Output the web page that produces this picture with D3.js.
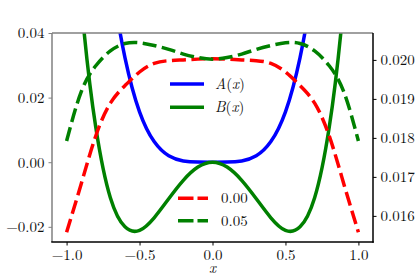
<!DOCTYPE html>
<html>
<head>
  <meta charset="utf-8">
  <script src="https://d3js.org/d3.v7.min.js"></script>
  <style>
    body, html { margin: 0; padding: 0; background: #fff; }
    svg { display: block; }
  </style>
</head>
<body>
  <svg id="chart" width="415" height="277"></svg>
  <script>
    // x samples for all curves
    var xs = [-1.0, -0.9, -0.8, -0.7, -0.6, -0.5, -0.4, -0.3, -0.2, -0.1, 0.0,
              0.1, 0.2, 0.3, 0.4, 0.5, 0.6, 0.7, 0.8, 0.9, 1.0];
    // left axis curves (A only goes a bit past the top edge)
    var xsA = [-0.8, -0.7, -0.6, -0.5, -0.4, -0.3, -0.2, -0.1, 0.0, 0.1, 0.2, 0.3, 0.4, 0.5, 0.6, 0.7, 0.8];
    var aVals = [0.102, 0.060, 0.0324, 0.0156, 0.0064, 0.0020, 0.0004, 0.00003, 0.0,
                 0.00003, 0.0004, 0.0020, 0.0064, 0.0156, 0.0324, 0.060, 0.102];
    var bVals = [0.111, 0.050, 0.0108, -0.0110, -0.0200, -0.0211, -0.0172, -0.0113, -0.0056, -0.0015, 0.0,
                 -0.0015, -0.0056, -0.0113, -0.0172, -0.0211, -0.0200, -0.0110, 0.0108, 0.050, 0.111];
    // right axis curves
    var red00 = [0.01558, 0.01682, 0.01805, 0.01889, 0.01934, 0.01969, 0.01991, 0.01998, 0.02000, 0.02002, 0.02003,
                 0.02002, 0.02000, 0.01998, 0.01991, 0.01969, 0.01934, 0.01889, 0.01805, 0.01682, 0.01558];
    var green05 = [0.01792, 0.01918, 0.01985, 0.02023, 0.02042, 0.02044, 0.02037, 0.02027, 0.02015, 0.02006, 0.02002,
                   0.02006, 0.02015, 0.02027, 0.02037, 0.02044, 0.02042, 0.02023, 0.01985, 0.01918, 0.01792];

    var xTicks = [-1.0, -0.5, 0.0, 0.5, 1.0];
    var yLeftTicks = [-0.02, 0.0, 0.02, 0.04];
    var yRightTicks = [0.016, 0.017, 0.018, 0.019, 0.020];

    var L = 52, R = 373, T = 33, B = 242;
    var serif = "'Latin Modern Roman'";
    var svg = d3.select("#chart");

    var x = d3.scaleLinear().domain([-1.1, 1.1]).range([L, R]);
    var yL = d3.scaleLinear().domain([-0.0247, 0.04]).range([B, T]);
    var yR = d3.scaleLinear().domain([0.01533, 0.02069]).range([B, T]);

    svg.append("defs").append("clipPath").attr("id", "plotclip")
      .append("rect").attr("x", L).attr("y", T).attr("width", R - L).attr("height", B - T);

    var plot = svg.append("g").attr("clip-path", "url(#plotclip)");

    function lineOn(ys, xv, yScale) {
      return d3.line()
        .x(function(d, i) { return x(xv[i]); })
        .y(function(d) { return yScale(d); })
        .curve(d3.curveNatural)(ys);
    }

    var dash = "14,5.5";
    var lw = 3.5;

    plot.append("path").attr("d", lineOn(aVals, xsA, yL))
      .attr("fill", "none").attr("stroke", "#0000ff").attr("stroke-width", lw);
    plot.append("path").attr("d", lineOn(bVals, xs, yL))
      .attr("fill", "none").attr("stroke", "#008000").attr("stroke-width", lw);
    plot.append("path").attr("d", lineOn(red00, xs, yR))
      .attr("fill", "none").attr("stroke", "#ff0000").attr("stroke-width", lw)
      .attr("stroke-dasharray", dash);
    plot.append("path").attr("d", lineOn(green05, xs, yR))
      .attr("fill", "none").attr("stroke", "#008000").attr("stroke-width", lw)
      .attr("stroke-dasharray", dash);

    // axes
    var fs = "15px";
    var gx = svg.append("g").attr("transform", "translate(0," + B + ")")
      .call(d3.axisBottom(x).tickValues(xTicks).tickSize(3.5).tickPadding(4)
        .tickFormat(d3.format(".1f")));
    var gl = svg.append("g").attr("transform", "translate(" + L + ",0)")
      .call(d3.axisLeft(yL).tickValues(yLeftTicks).tickSize(3.5).tickPadding(4)
        .tickFormat(d3.format(".2f")));
    var gr = svg.append("g").attr("transform", "translate(" + R + ",0)")
      .call(d3.axisRight(yR).tickValues(yRightTicks).tickSize(3.5).tickPadding(4)
        .tickFormat(d3.format(".3f")));

    [gx, gl, gr].forEach(function(g) {
      g.select(".domain").remove();
      g.attr("font-family", null).attr("font-size", null);
      g.selectAll("text").style("font-family", serif).style("font-size", fs).attr("fill", "#111");
    });
    gx.selectAll("line").attr("stroke", "#000");
    gr.selectAll("line").attr("stroke", "#000");
    gl.selectAll("line").attr("stroke", "#808080");

    // spines: top/left grey, bottom/right black
    svg.append("line").attr("x1", L).attr("x2", L).attr("y1", T).attr("y2", B)
      .attr("stroke", "#808080").attr("stroke-width", 1.5);
    svg.append("line").attr("x1", L).attr("x2", R).attr("y1", T).attr("y2", T)
      .attr("stroke", "#808080").attr("stroke-width", 1.5);
    svg.append("line").attr("x1", L - 0.75).attr("x2", R + 0.75).attr("y1", B).attr("y2", B)
      .attr("stroke", "#000").attr("stroke-width", 1.5);
    svg.append("line").attr("x1", R).attr("x2", R).attr("y1", T).attr("y2", B + 0.75)
      .attr("stroke", "#000").attr("stroke-width", 1.5);

    // x label
    svg.append("text").attr("x", x(0)).attr("y", 273).attr("text-anchor", "middle")
      .style("font-family", serif).style("font-size", "15px").style("font-style", "italic")
      .attr("fill", "#111").text("x");

    // legend 1 (left axis curves)
    var leg1 = [
      { name: "A", color: "#0000ff", y: 84 },
      { name: "B", color: "#008000", y: 107.3 }
    ];
    leg1.forEach(function(d) {
      svg.append("line").attr("x1", 170).attr("x2", 204).attr("y1", d.y).attr("y2", d.y)
        .attr("stroke", d.color).attr("stroke-width", lw);
      var t = svg.append("text").attr("x", 215).attr("y", d.y + 5)
        .style("font-family", serif).style("font-size", fs).attr("fill", "#111");
      t.append("tspan").style("font-style", "italic").text(d.name);
      t.append("tspan").text("(");
      t.append("tspan").style("font-style", "italic").text("x");
      t.append("tspan").text(")");
    });

    // legend 2 (right axis curves)
    var leg2 = [
      { label: "0.00", color: "#ff0000", y: 198.3 },
      { label: "0.05", color: "#008000", y: 220.7 }
    ];
    leg2.forEach(function(d) {
      svg.append("line").attr("x1", 178).attr("x2", 208).attr("y1", d.y).attr("y2", d.y)
        .attr("stroke", d.color).attr("stroke-width", lw).attr("stroke-dasharray", "15.5,4");
      svg.append("text").attr("x", 221).attr("y", d.y + 5)
        .style("font-family", serif).style("font-size", fs).attr("fill", "#111").text(d.label);
    });
  </script>
</body>
</html>
